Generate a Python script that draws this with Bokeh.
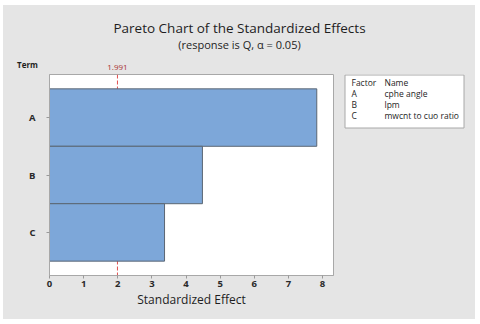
from bokeh.plotting import figure
from bokeh.layouts import column, row
from bokeh.models import Range1d, FixedTicker, Span, Label, ColumnDataSource
from bokeh.core.properties import value
from bokeh.embed import file_html
from bokeh.resources import INLINE

# ---- data ----
terms = ["A", "B", "C"]
effects = [7.83, 4.48, 3.37]
factor_names = ["cphe angle", "lpm", "mwcnt to cuo ratio"]
critical_value = 1.991
x_ticks = [0, 1, 2, 3, 4, 5, 6, 7, 8]
title_text = "Pareto Chart of the Standardized Effects"
subtitle_text = "(response is Q, \u03b1 = 0.05)"

FONT = "Open Sans"
BG = "#e5e5e5"
TXT = "#1e1e1e"
GRAYLINE = "#a8a8a8"

# geometry (page pixels); the grey panel spans x 3..475, y 5..319
PX0, PY0, PX1, PY1 = 3, 5, 475, 319
W = PX1 - PX0
SPLIT_Y = 72           # bottom of top strip
FRAME_L, FRAME_R = 49, 333
FRAME_T, FRAME_B = 74, 275
SPLIT_X = 338          # main chart | legend
XMAX = 8.32
YMIN, YMAX = -0.75, 2.75

TOP_H = SPLIT_Y - PY0
MAIN_W = SPLIT_X - PX0
MAIN_H = PY1 - SPLIT_Y
FW = FRAME_R - FRAME_L
BT = FRAME_T - SPLIT_Y
BB = PY1 - FRAME_B

def px2x(px):  # page x -> effect units (shared with main x scale)
    return (px - FRAME_L) / FW * XMAX

# ---------- top strip: title, subtitle, "Term", critical value label ----------
top = figure(width=W, height=TOP_H, output_backend="svg", toolbar_location=None,
             x_range=Range1d(px2x(PX0), px2x(PX1)), y_range=Range1d(SPLIT_Y, PY0),
             x_axis_type=None, y_axis_type=None,
             min_border_left=0, min_border_right=0, min_border_top=0, min_border_bottom=0)
top.background_fill_color = BG
top.border_fill_color = BG
top.outline_line_color = None
top.grid.visible = False

top.add_layout(Label(x=px2x(239), y=27, text=title_text, text_font=FONT, text_font_size="13.5px",
                     text_align="center", text_baseline="middle", text_color=TXT))
top.add_layout(Label(x=px2x(239), y=44, text=subtitle_text, text_font=FONT, text_font_size="11px",
                     text_align="center", text_baseline="middle", text_color=TXT))
top.add_layout(Label(x=px2x(27), y=64, text="Term", text_font=FONT, text_font_size="8px",
                     text_font_style="bold", text_align="center", text_baseline="middle",
                     text_color=TXT))
top.add_layout(Label(x=critical_value, y=66.5, text=f"{critical_value:.3f}", text_font=FONT,
                     text_font_size="8px", text_align="center", text_baseline="middle",
                     text_color="#a83232"))

# ---------- main chart ----------
ypos = [len(terms) - 1 - i for i in range(len(terms))]
src = ColumnDataSource(dict(y=ypos, right=effects, term=terms))

p = figure(width=MAIN_W, height=MAIN_H, output_backend="svg", toolbar_location=None,
           x_range=Range1d(0, XMAX), y_range=Range1d(YMIN, YMAX),
           min_border_left=FRAME_L - PX0, min_border_right=SPLIT_X - FRAME_R,
           min_border_top=BT, min_border_bottom=BB)
p.border_fill_color = BG
p.background_fill_color = "white"
p.outline_line_color = GRAYLINE
p.grid.visible = False

p.add_layout(Span(location=critical_value, dimension="height", level="underlay",
                  line_color="#e05050", line_dash="4 2", line_width=1))

p.hbar(y="y", left=0, right="right", height=1.0, source=src,
       fill_color="#7da7d9", line_color="#5b6673", line_width=1)

p.xaxis.ticker = FixedTicker(ticks=x_ticks)
p.xaxis.axis_label = "Standardized Effect"
p.xaxis.axis_label_text_font = FONT
p.xaxis.axis_label_text_font_size = "12px"
p.xaxis.axis_label_text_font_style = "normal"
p.xaxis.axis_label_text_color = TXT
p.xaxis.axis_label_standoff = 1
p.yaxis.ticker = FixedTicker(ticks=ypos)
p.yaxis.major_label_overrides = {y: t for y, t in zip(ypos, terms)}
for ax in (p.xaxis, p.yaxis):
    ax.major_label_text_font = FONT
    ax.major_label_text_font_size = "9.5px"
    ax.major_label_text_font_style = "bold"
    ax.major_label_text_color = "#2a2a2a"
    ax.axis_line_color = GRAYLINE
    ax.major_tick_line_color = "#999999"
    ax.major_tick_out = 3
    ax.major_tick_in = 0
    ax.minor_tick_line_color = None
    ax.major_label_standoff = 2
p.yaxis.major_label_standoff = 11

# ---------- legend table (frame aligned with the main chart) ----------
LEG_W = PX1 - SPLIT_X
LB, RB = 2, 2
leg = figure(width=LEG_W, height=MAIN_H, output_backend="svg", toolbar_location=None,
             x_range=Range1d(SPLIT_X + LB, PX1 - RB), y_range=Range1d(FRAME_B, FRAME_T),
             x_axis_type=None, y_axis_type=None,
             min_border_left=LB, min_border_right=RB, min_border_top=BT, min_border_bottom=BB)
leg.background_fill_color = BG
leg.border_fill_color = BG
leg.outline_line_color = None
leg.grid.visible = False

leg.quad(left=344.5, right=463.5, top=74.5, bottom=127.5,
         fill_color="white", line_color=GRAYLINE, line_width=1)

col1, col2 = 351, 384
LEG_FS = "8.5px"
leg.text(x=[col1, col2], y=[82, 82], text=["Factor", "Name"], text_font=value(FONT),
         text_font_size=LEG_FS, text_baseline="middle", text_color=TXT)
rows_y = [93 + 11 * i for i in range(len(terms))]
leg.text(x=[col1] * len(terms), y=rows_y, text=terms, text_font=value(FONT),
         text_font_size=LEG_FS, text_baseline="middle", text_color=TXT)
leg.text(x=[col2] * len(terms), y=rows_y, text=factor_names, text_font=value(FONT),
         text_font_size=LEG_FS, text_baseline="middle", text_color=TXT)

bottom_row = row(p, leg, spacing=0, styles={"background-color": BG})
layout = column(top, bottom_row, spacing=0, styles={"background-color": BG},
                margin=(PY0, 0, 0, PX0))
open("out.html", "w").write(file_html(layout, INLINE))
